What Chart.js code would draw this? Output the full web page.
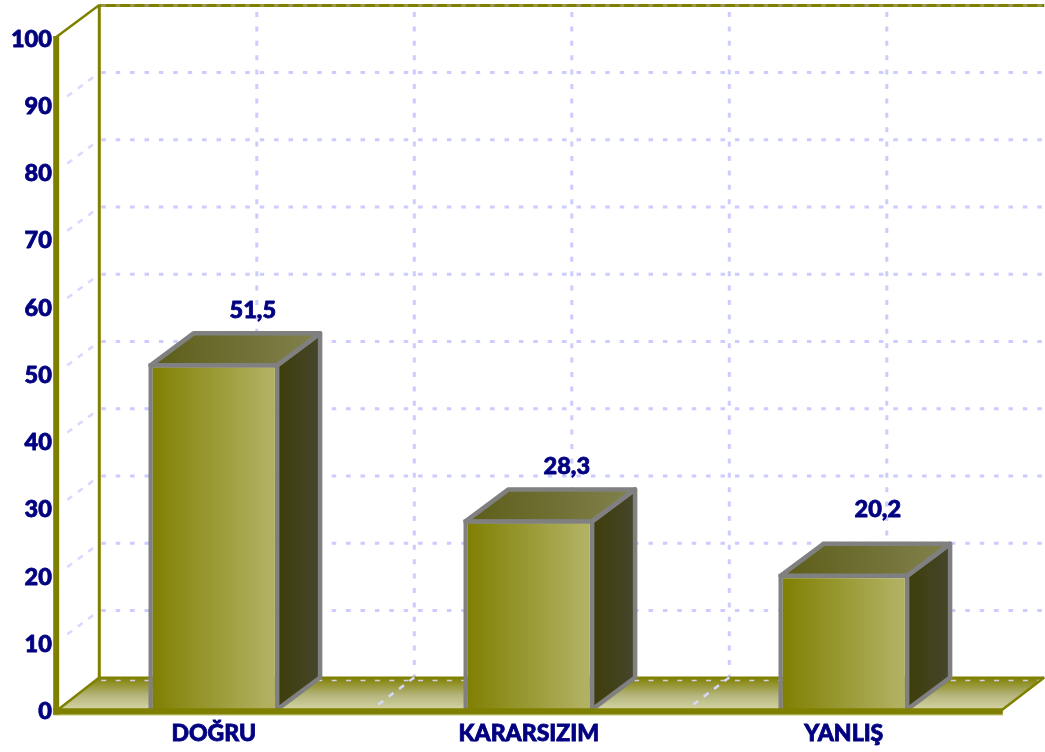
<!DOCTYPE html>
<html>
<head>
<meta charset="utf-8">
<style>html,body{margin:0;padding:0;background:#fff}canvas{display:block}</style>
<script src="https://cdn.jsdelivr.net/npm/chart.js@4"></script>
</head>
<body>
<canvas id="c" width="1045" height="752"></canvas>
<script>
const categories = ['DOĞRU', 'KARARSIZIM', 'YANLIŞ'];
const values = [51.5, 28.3, 20.2];
const valueLabels = ['51,5', '28,3', '20,2'];
const yMin = 0, yMax = 100, yStep = 10;

const DX = 43, DY = 32;
const OLIVE = '#808000', GREY = '#808080', NAVY = '#000080', GRID = '#ccccff';
const FONT = 'Lato, "Open Sans", sans-serif';
const labelNudge = [[39, -53], [38, -53], [34, -64]];

function poly(ctx, pts) {
  ctx.beginPath();
  pts.forEach((p, i) => i ? ctx.lineTo(p[0], p[1]) : ctx.moveTo(p[0], p[1]));
  ctx.closePath();
}
function seg(ctx, x0, y0, x1, y1, color, w, dash) {
  ctx.save();
  ctx.strokeStyle = color; ctx.lineWidth = w; ctx.setLineDash(dash || []);
  ctx.beginPath(); ctx.moveTo(x0, y0); ctx.lineTo(x1, y1); ctx.stroke();
  ctx.restore();
}
function boldText(ctx, s, x, y) {
  ctx.fillText(s, x, y);
  ctx.strokeText(s, x, y);
}

const scene3d = {
  id: 'scene3d',
  beforeDatasetsDraw(chart) {
    const { ctx } = chart, x = chart.scales.x, y = chart.scales.y;
    const L = x.left, R = x.right, B = y.getPixelForValue(yMin), T = y.getPixelForValue(yMax);
    const band = (R - L) / categories.length;
    ctx.save();

    // floor
    const fg = ctx.createLinearGradient(0, B - DY, 0, B);
    fg.addColorStop(0, OLIVE); fg.addColorStop(0.55, '#b4b47c'); fg.addColorStop(1, '#d4d4a4');
    ctx.fillStyle = fg;
    poly(ctx, [[L, B], [L + DX, B - DY], [R + DX, B - DY], [R, B]]);
    ctx.fill();

    // back-wall vertical grid, every half category
    for (let i = 1; i < categories.length * 2; i++) {
      const gx = L + i * band / 2 + DX;
      seg(ctx, gx, T - DY + 7, gx, B - DY, GRID, 3, [5, 9.4]);
    }
    // back-wall and left-wall horizontal grid
    y.ticks.forEach(t => {
      const py = y.getPixelForValue(t.value);
      if (t.value !== yMin && t.value !== yMax) {
        seg(ctx, L + DX + 2, py - DY + 0.3, R + DX, py - DY + 0.3, GRID, 3, [4.5, 9.9]);
        seg(ctx, L + 11, py - 8, L + DX - 2, py - DY + 2, '#d8d8ff', 2.5, [6, 7]);
      }
    });
    // walls
    seg(ctx, L + DX, T - DY, L + DX, B - DY, OLIVE, 3);
    seg(ctx, L + DX, T - DY + 0.5, R + DX, T - DY + 0.5, OLIVE, 3);
    seg(ctx, L + DX + 2, T - DY + 0.5, R + DX, T - DY + 0.5, 'rgba(204,204,255,.3)', 3, [4.5, 9.9]);
    seg(ctx, L, T, L + DX, T - DY, OLIVE, 2.5);
    // floor edges
    seg(ctx, L + DX, B - DY, R + DX, B - DY, OLIVE, 2);
    seg(ctx, L + DX + 2, B - DY + 3, R + DX, B - DY + 3, '#d0d0e8', 1.5, [5, 9.4]);
    seg(ctx, L + 2, B, L + DX, B - DY, OLIVE, 2.5);
    seg(ctx, R, B + 1, R + DX, B - DY, OLIVE, 2.5);
    // floor grid at category boundaries
    for (let i = 1; i < categories.length; i++) {
      const fx = L + i * band;
      seg(ctx, fx + 7, B - 5, fx + DX, B - DY, '#d8d8ff', 2.5, [6, 7]);
    }

    // top and side faces of each bar
    chart.getDatasetMeta(0).data.forEach(bar => {
      const hw = bar.width / 2, xl = bar.x - hw, xr = bar.x + hw, top = bar.y, bot = B;
      const i = 2.2;
      const tg = ctx.createLinearGradient(xl, 0, xr + DX, 0);
      tg.addColorStop(0, '#5c5c18'); tg.addColorStop(1, '#82824e');
      ctx.fillStyle = tg;
      poly(ctx, [[xl + i, top + i], [xl + i + DX, top + i - DY], [xr - i + DX, top + i - DY], [xr - i, top + i]]);
      ctx.fill();
      const sg = ctx.createLinearGradient(xr, 0, xr + DX, 0);
      sg.addColorStop(0, '#3e3e0c'); sg.addColorStop(1, '#46462e');
      ctx.fillStyle = sg;
      poly(ctx, [[xr - i, top + i], [xr - i + DX, top + i - DY], [xr - i + DX, bot - DY], [xr - i, bot]]);
      ctx.fill();
      ctx.strokeStyle = GREY; ctx.lineWidth = 4.5; ctx.lineJoin = 'round';
      poly(ctx, [[xl + i, top + i], [xl + i + DX, top + i - DY], [xr - i + DX, top + i - DY], [xr - i, top + i]]);
      ctx.stroke();
      poly(ctx, [[xr - i, top + i], [xr - i + DX, top + i - DY], [xr - i + DX, bot - DY], [xr - i, bot]]);
      ctx.stroke();
      // front-face gradient, spanning the bar's own width
      const g = ctx.createLinearGradient(xl, 0, xr, 0);
      g.addColorStop(0, '#7e7e00'); g.addColorStop(0.9, '#b0b060'); g.addColorStop(1, '#b2b262');
      bar.options = Object.assign({}, bar.options, { backgroundColor: g });
    });
    ctx.restore();
  },
  afterDatasetsDraw(chart) {
    const { ctx } = chart, x = chart.scales.x, y = chart.scales.y;
    const L = x.left, R = x.right, B = y.getPixelForValue(yMin), T = y.getPixelForValue(yMax);
    // thick front axes
    seg(ctx, L - 0.1, T - 1, L - 0.1, B + 5.5, OLIVE, 6);
    seg(ctx, L - 3, B + 2, R + 1.5, B + 2, OLIVE, 6.5);
    seg(ctx, L - 3, B + 5.8, R + 1.5, B + 5.8, '#d8d8a0', 1);
    ctx.save();
    ctx.fillStyle = NAVY;
    ctx.strokeStyle = NAVY;
    ctx.lineWidth = 0.8;
    ctx.lineJoin = 'round';
    ctx.font = '900 23.5px ' + FONT;
    ctx.textAlign = 'center'; ctx.textBaseline = 'middle';
    // value labels
    chart.getDatasetMeta(0).data.forEach((bar, i) => {
      boldText(ctx, valueLabels[i], bar.x + labelNudge[i][0], bar.y + labelNudge[i][1]);
    });
    // y tick labels, taken from the library's own ticks
    ctx.font = '900 23.5px ' + FONT;
    ctx.textAlign = 'right';
    y.ticks.forEach(t => boldText(ctx, t.label, L - 4.5, y.getPixelForValue(t.value) + 2));
    ctx.restore();
  }
};

new Chart(document.getElementById('c'), {
  type: 'bar',
  data: {
    labels: categories,
    datasets: [{
      data: values,
      barPercentage: 131 / 315,
      categoryPercentage: 1,
      borderColor: GREY,
      borderWidth: { left: 4.5, right: 4.5, top: 4.5, bottom: 0 },
      borderSkipped: false,
      backgroundColor: OLIVE
    }]
  },
  plugins: [scene3d],
  options: {
    responsive: false,
    animation: false,
    layout: { padding: { left: 0, top: 37, right: 43.7, bottom: 0 } },
    plugins: { legend: { display: false }, tooltip: { enabled: false } },
    scales: {
      x: {
        grid: { display: false, drawTicks: false },
        border: { display: false },
        afterFit(s) { s.height = 42.5; },
        ticks: { color: NAVY, textStrokeColor: NAVY, textStrokeWidth: 0.8, padding: 10, font: { family: FONT, weight: '900', size: 23 }, maxRotation: 0 }
      },
      y: {
        min: yMin, max: yMax,
        grid: { display: false, drawTicks: false },
        border: { display: false },
        afterFit(s) { s.width = 56.3; },
        ticks: { display: false, stepSize: yStep }
      }
    }
  }
});
</script>
</body>
</html>
